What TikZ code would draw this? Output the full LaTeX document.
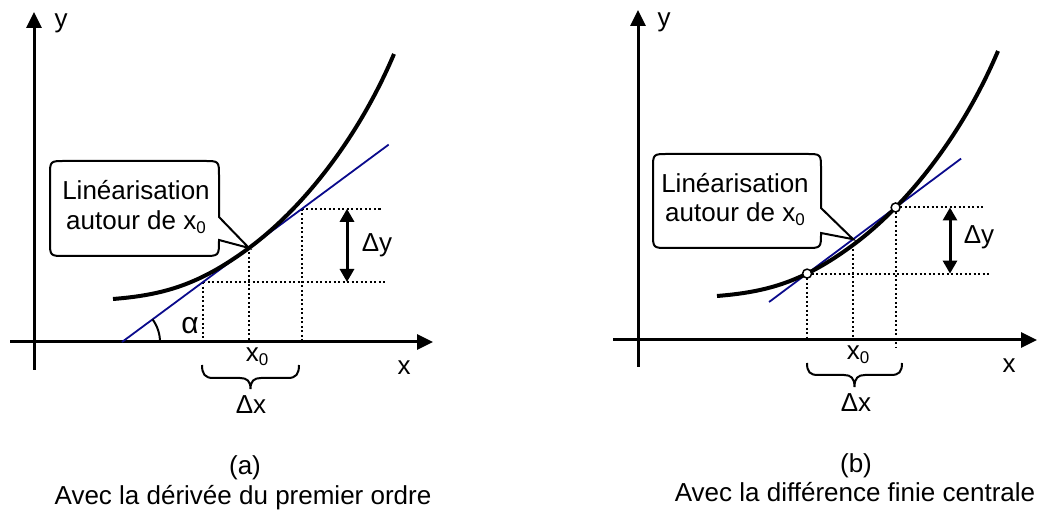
\documentclass[tikz,border=0pt]{standalone}
\usepackage{fontspec}
\setmainfont{Liberation Sans}
\usetikzlibrary{arrows.meta,calc}
\definecolor{navyline}{RGB}{10,10,140}
\newcommand{\mysub}[1]{\raisebox{-4pt}{\fontsize{17}{17}\selectfont #1}}
\begin{document}
\begin{tikzpicture}[x=1pt,y=-1pt,
  lbl/.style={font=\fontsize{26}{30}\selectfont, anchor=base, inner sep=0pt},
  axis/.style={line width=3pt,-{Triangle[length=16pt,width=15pt]}},
  curvestyle/.style={line width=4pt},
  tanline/.style={navyline,line width=1.8pt},
  dots/.style={line width=2pt,dash pattern=on 2pt off 2.5pt},
  dyarrow/.style={line width=3pt,{Triangle[length=13pt,width=14pt]}-{Triangle[length=13pt,width=14pt]}},
  bracestyle/.style={line width=2pt},
  callout/.style={line width=2pt, fill=white},
  ptnode/.style={circle,draw,fill=white,line width=1.5pt,minimum size=9pt,inner sep=0pt}]

\useasboundingbox (0,0) rectangle (1037,510);

% ================= Panel (a) =================
\coordinate (ya0) at (34,370); \coordinate (ya1) at (34,12);
\coordinate (xa0) at (10,342); \coordinate (xa1) at (433,342);
\draw[axis] (ya0) -- (ya1);
\draw[axis] (xa0) -- (xa1);

\coordinate (A) at (122,342);
\coordinate (T) at (249,248);
\coordinate (Q1) at ($(A)!0.6378!(T)$);
\coordinate (Q2) at ($(A)!1.4173!(T)$);
\coordinate (Aend) at ($(A)!2.1!(T)$);
\coordinate (Q1r) at ([xshift=184pt]Q1);
\coordinate (Q2r) at ([xshift=79pt]Q2);

\draw[dots] (Q1) -- (Q1 |- xa0);
\draw[dots] (T) -- (T |- xa0);
\draw[dots] (Q2) -- (Q2 |- xa0);
\draw[dots] (Q1) -- (Q1r);
\draw[dots] (Q2) -- (Q2r);

\coordinate (dyt) at (347,208.8);
\coordinate (dyb) at (347,282.0);
\draw[dyarrow] (dyt) -- (dyb);

\draw[tanline] (A) -- (Aend);
\draw[line width=2pt] ([xshift=38pt]A) arc[start angle=0,end angle=-36.5,radius=38];

\draw[curvestyle] (113,299) .. controls (163,295) and (199,285) .. (249,248)
  .. controls (304,207.3) and (359,136.6) .. (394,54);

\draw[callout] (65,161) -- (204,161) .. controls (219,161) .. (219,176) -- (219,217)
  -- (T) -- (219,240) .. controls (219,256) .. (203,256) -- (65,256)
  .. controls (50,256) .. (50,241) -- (50,176) .. controls (50,161) .. (65,161) -- cycle;
\node[lbl] (ca1) at (136,200) {Linéarisation};
\node[lbl] (ca2) at (136,230) {autour de x\mysub{0}};

\draw[bracestyle] (202,365) .. controls (202,374) and (205,378) .. (213,378) -- (240,378)
  .. controls (247,378) and (250.5,381) .. (250.5,389)
  .. controls (250.5,381) and (254,378) .. (261,378) -- (288,378)
  .. controls (296,378) and (299,374) .. (299,365);

\node[lbl] (ylaba) at (61,28) {y};
\node[lbl] (xlaba) at (404,375) {x};
\node[lbl,font=\fontsize{30}{30}\selectfont] (alpha) at (190,334) {α};
\node[lbl] (x0a) at (257,362) {x\mysub{0}};
\node[lbl] (dxa) at (251,414) {Δx};
\node[lbl] (dya) at (377,252) {Δy};

\node[lbl] (capa1) at (245,475) {(a)};
\node[lbl] (capa2) at (243,505) {Avec la dérivée du premier ordre};

% ================= Panel (b) =================
\coordinate (yb0) at (638,367); \coordinate (yb1) at (638,10);
\coordinate (xb0) at (613,340); \coordinate (xb1) at (1037,340);
\draw[axis] (yb0) -- (yb1);
\draw[axis] (xb0) -- (xb1);

\coordinate (P1) at (807.1,273.6);
\coordinate (P2) at (895.6,207.5);
\coordinate (X0b) at (853,245);
\coordinate (P2down) at (895.6,348);
\coordinate (P1r) at (991,273.6);
\coordinate (P2r) at (984,207.5);

\draw[dots] (P1) -- (P1 |- xb0);
\draw[dots] (X0b) -- (X0b |- xb0);
\draw[dots] (P2) -- (P2down);
\draw[dots] (P1) -- (P1r);
\draw[dots] (P2) -- (P2r);

\coordinate (dybt) at (950,207.5);
\coordinate (dybb) at (950,273.6);
\draw[dyarrow] (dybt) -- (dybb);

\draw[tanline] ($(P1)!-0.43!(P2)$) -- ($(P2)!-0.74!(P1)$);

\begin{scope}[shift={(604,-3)}]
\draw[curvestyle] (113,299) .. controls (163,295) and (199,285) .. (249,248)
  .. controls (304,207.3) and (359,136.6) .. (394,54);
\end{scope}

\coordinate (tipb) at ($(P1)!0.52!(P2)$);
\draw[callout] (668,154) -- (806,154) .. controls (821,154) .. (821,169) -- (821,208)
  -- (tipb) -- (821,233) .. controls (821,248) .. (806,248) -- (668,248)
  .. controls (653,248) .. (653,233) -- (653,169) .. controls (653,154) .. (668,154) -- cycle;
\node[lbl] (cb1) at (735,193) {Linéarisation};
\node[lbl] (cb2) at (735,222) {autour de x\mysub{0}};

\node[ptnode] (c1) at (P1) {};
\node[ptnode] (c2) at (P2) {};

\draw[bracestyle] (807,363) .. controls (807,372) and (810,375) .. (818,375) -- (844,375)
  .. controls (851,375) and (854.5,378) .. (854.5,387)
  .. controls (854.5,378) and (858,375) .. (865,375) -- (891,375)
  .. controls (899,375) and (902,372) .. (902,363);

\node[lbl] (ylabb) at (664,27) {y};
\node[lbl] (xlabb) at (1009,373) {x};
\node[lbl] (x0b) at (858,360) {x\mysub{0}};
\node[lbl] (dxb) at (856,412) {Δx};
\node[lbl] (dyb2) at (979,244) {Δy};

\node[lbl] (capb1) at (856,473) {(b)};
\node[lbl] (capb2) at (855,502) {Avec la différence finie centrale};
\end{tikzpicture}
\end{document}
